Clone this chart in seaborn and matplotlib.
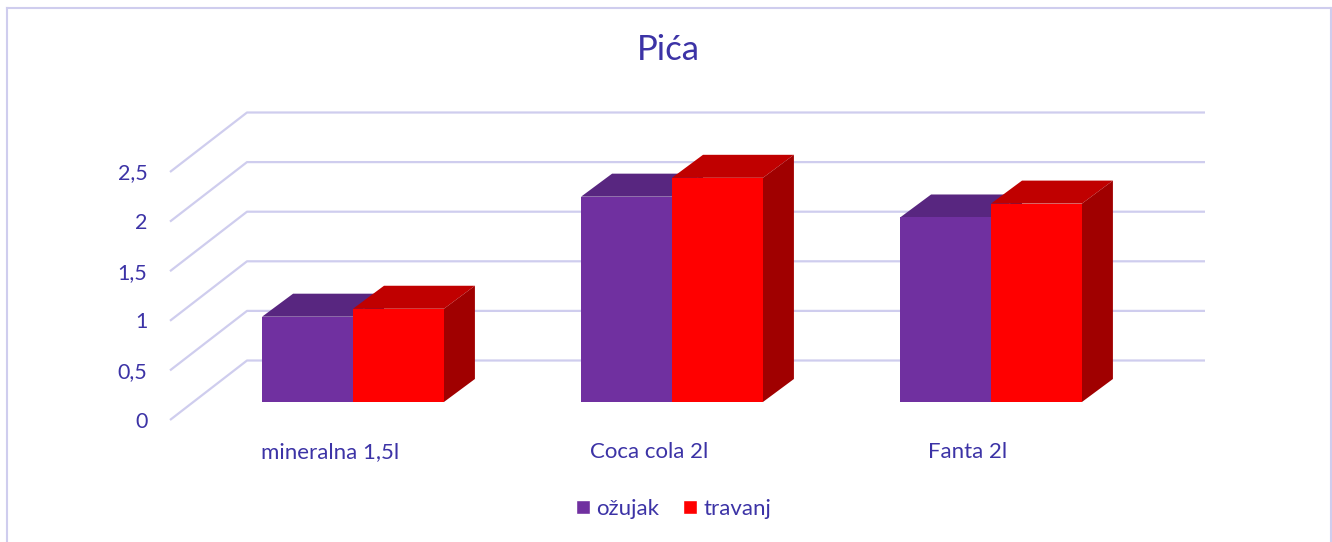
#!/usr/bin/env python
"""Excel-style 3D column chart 'Pića' drawn from a flat seaborn barplot."""
import pandas as pd
import matplotlib
matplotlib.use("Agg")
import matplotlib.pyplot as plt
import seaborn as sns
from matplotlib.patches import Polygon
from matplotlib.ticker import FixedLocator, FixedFormatter

categories = ["mineralna 1,5l", "Coca cola 2l", "Fanta 2l"]
ozujak = [0.86, 2.07, 1.86]
travanj = [0.94, 2.26, 2.00]
y_ticks = [0, 0.5, 1, 1.5, 2, 2.5]
y_tick_labels = ["0", "0,5", "1", "1,5", "2", "2,5"]

W, H = 1332, 542
PX_CAT = 319.0     # px between category centres
PX_UNIT = 99.2     # px per 1.0 on the value axis
CAT0_PX = 353.0    # px of first category centre
BASE_PX = 402.0    # px of bar bases

# axes box (px), spines give the chart border
LEFT, RIGHT, TOP, BOTTOM = 7.0, 1330.5, 7.5, 542.0

TEXT = "#3C33A6"
GRID = "#CFCDEE"
FACES = {"ožujak": ("#7030A0", "#582680", "#4A2070"),
         "travanj": ("#FF0000", "#C00000", "#A00000")}


def xd(px):
    return (px - CAT0_PX) / PX_CAT


def yd(py):
    return (BASE_PX - py) / PX_UNIT


sns.set_theme(style="white")
plt.rcParams["font.family"] = ["Lato", "DejaVu Sans"]

df = pd.DataFrame({
    "kategorija": categories * 2,
    "mjesec": ["ožujak"] * 3 + ["travanj"] * 3,
    "vrijednost": ozujak + travanj,
})

fig = plt.figure(figsize=(W / 100, H / 100), dpi=100)
ax = fig.add_axes([LEFT / W, (H - BOTTOM) / H, (RIGHT - LEFT) / W, (BOTTOM - TOP) / H])

sns.barplot(data=df, x="kategorija", y="vrijednost", hue="mjesec",
            palette={k: v[0] for k, v in FACES.items()}, saturation=1,
            width=0.57, gap=0, errorbar=None, ax=ax)

ax.set_xlim(xd(LEFT), xd(RIGHT))
ax.set_ylim(yd(BOTTOM), yd(TOP))
ax.set_xticks([])
ax.set_yticks([])
ax.set_xlabel("")
ax.set_ylabel("")

# border: left, top, right only
ax.spines["bottom"].set_visible(False)
for side in ("left", "top", "right"):
    ax.spines[side].set_color(GRID)
    ax.spines[side].set_linewidth(1.5)

# --- walls: back lines plus the slanted floor/side lines
for t in y_ticks:
    back = yd(360.5 - t * PX_UNIT)
    front = yd(420 - t * PX_UNIT)
    ax.plot([xd(1205), xd(247), xd(170)], [back, back, front], color=GRID, lw=1.6,
            zorder=1, solid_capstyle="butt")

# --- 3D faces from the bars seaborn drew
DX = 31 / PX_CAT
DY = 23 / PX_UNIT
for z, (name, cont) in enumerate(zip(FACES, ax.containers), start=3):
    _, top_c, side_c = FACES[name]
    for bar in cont:
        x0, w, h = bar.get_x(), bar.get_width(), bar.get_height()
        x1 = x0 + w
        bar.set_zorder(z + 0.5)
        bar.set_linewidth(0)
        ax.add_patch(Polygon([(x0, h), (x1, h), (x1 + DX, h + DY), (x0 + DX, h + DY)],
                             closed=True, fc=top_c, ec="none", zorder=z))
        ax.add_patch(Polygon([(x1, 0), (x1 + DX, DY), (x1 + DX, h + DY), (x1, h)],
                             closed=True, fc=side_c, ec="none", zorder=z))

# --- tick labels sit on the front plane, offset from the bars
off_y = yd(419.5)
sec_y = ax.secondary_yaxis((147.5 - LEFT) / (RIGHT - LEFT),
                           functions=(lambda v: v - off_y, lambda v: v + off_y))
sec_y.yaxis.set_major_locator(FixedLocator(y_ticks))
sec_y.yaxis.set_major_formatter(FixedFormatter(y_tick_labels))
sec_y.tick_params(axis="y", length=0, pad=0, labelsize=15.5, labelcolor=TEXT)
sec_y.spines["left"].set_visible(False)
sec_y.spines["right"].set_visible(False)

off_x = xd(330) - xd(353)
sec_x = ax.secondary_xaxis((BOTTOM - 442.5) / (BOTTOM - TOP),
                           functions=(lambda v: v - off_x, lambda v: v + off_x))
sec_x.xaxis.set_major_locator(FixedLocator(range(len(categories))))
sec_x.xaxis.set_major_formatter(FixedFormatter(categories))
sec_x.tick_params(axis="x", length=0, pad=0, labelsize=16, labelcolor=TEXT)
sec_x.spines["top"].set_visible(False)
sec_x.spines["bottom"].set_visible(False)

fig.text(668.5 / W, 1 - 50 / H, "Pića", ha="center", va="center", fontsize=25, color=TEXT)

handles, labels = ax.get_legend_handles_labels()
ax.get_legend().remove()
fig.legend(handles, labels, loc="center", bbox_to_anchor=(673.5 / W, 1 - 509 / H), ncol=2,
           frameon=False, fontsize=16, labelcolor=TEXT, handlelength=0.63, handleheight=0.63,
           handletextpad=0.27, columnspacing=1.1, borderpad=0, borderaxespad=0)

fig.savefig("out.png", dpi=100)
